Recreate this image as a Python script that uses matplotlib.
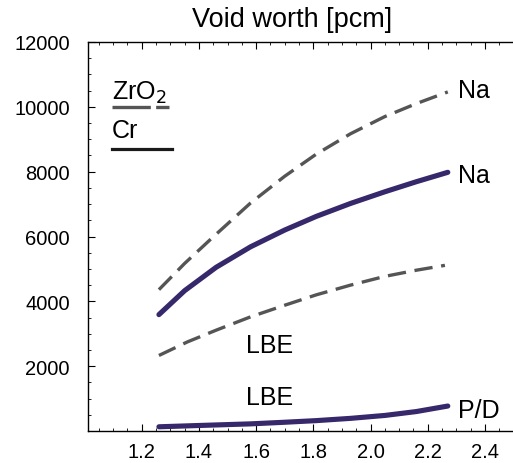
import matplotlib
matplotlib.use("Agg")
import matplotlib.pyplot as plt
from matplotlib.ticker import MultipleLocator

plt.rcParams['font.family'] = ['Liberation Sans', 'DejaVu Sans']

# data
pd_zro2_na = [1.26, 1.35, 1.45, 1.58, 1.70, 1.81, 1.93, 2.05, 2.16, 2.27]
vw_zro2_na = [4360, 5170, 5990, 7030, 7860, 8540, 9170, 9700, 10100, 10460]

pd_cr_na = [1.26, 1.35, 1.46, 1.58, 1.70, 1.81, 1.93, 2.05, 2.16, 2.27]
vw_cr_na = [3590, 4330, 5050, 5680, 6200, 6620, 7020, 7380, 7690, 7980]

pd_zro2_lbe = [1.26, 1.36, 1.46, 1.58, 1.70, 1.81, 1.93, 2.05, 2.16, 2.26]
vw_zro2_lbe = [2330, 2750, 3110, 3520, 3880, 4200, 4500, 4770, 4960, 5110]

pd_cr_lbe = [1.26, 1.40, 1.58, 1.70, 1.81, 1.93, 2.05, 2.16, 2.27]
vw_cr_lbe = [130, 170, 220, 270, 320, 390, 480, 600, 770]

x_ticks = [1.2, 1.4, 1.6, 1.8, 2.0, 2.2, 2.4]
y_ticks = [2000, 4000, 6000, 8000, 10000, 12000]

gray = '#555555'
purple = '#36286b'

fig = plt.figure(figsize=(5.13, 4.64), dpi=100)
ax = fig.add_axes([88/513, 32/464, 1 - 88/513, (432-43)/464])

dash = (0, (5.5, 2.6))
ax.plot(pd_zro2_na, vw_zro2_na, color=gray, lw=2.4, linestyle=dash)
ax.plot(pd_zro2_lbe, vw_zro2_lbe, color=gray, lw=2.4, linestyle=dash)
ax.plot(pd_cr_na, vw_cr_na, color=purple, lw=3.7, solid_capstyle='round',
        solid_joinstyle='round')
ax.plot(pd_cr_lbe, vw_cr_lbe, color=purple, lw=3.7, solid_capstyle='round',
        solid_joinstyle='round')

ax.set_xlim(1.012, 2.498)
ax.set_ylim(0, 12000)
ax.set_xticks(x_ticks)
ax.set_yticks(y_ticks)
ax.set_xticklabels([f'{v:.1f}' for v in x_ticks])
ax.xaxis.set_minor_locator(MultipleLocator(0.05))
ax.yaxis.set_minor_locator(MultipleLocator(500))
ax.tick_params(which='both', direction='in', top=True, right=False, labelsize=14.5)
ax.tick_params(which='major', length=5, width=0.8)
ax.tick_params(which='minor', length=2.5, width=0.6)
ax.tick_params(axis='x', pad=8)
ax.tick_params(axis='y', pad=13)
ax.spines['right'].set_visible(False)
for s in ['left', 'bottom', 'top']:
    ax.spines[s].set_linewidth(1.0)

fs = 18
ax.text(2.306, 10520, 'Na', fontsize=fs, va='center', ha='left')
ax.text(2.306, 7900, 'Na', fontsize=fs, va='center', ha='left')
ax.text(2.306, 650, 'P/D', fontsize=fs, va='center', ha='left')
ax.text(1.565, 2650, 'LBE', fontsize=fs, va='center', ha='left')
ax.text(1.565, 1050, 'LBE', fontsize=fs, va='center', ha='left')

# legend-like annotation
ax.text(1.095, 10450, 'ZrO$_2$', fontsize=fs, va='center', ha='left')
ax.plot([1.097, 1.295], [9990, 9990], color=gray, lw=2.4, linestyle=(0, (11.5, 1.6)))
ax.text(1.095, 9300, 'Cr', fontsize=fs, va='center', ha='left')
ax.plot([1.097, 1.305], [8700, 8700], color='#1a1a1a', lw=2.3)

fig.text(292/513, 1 - 20/464, 'Void worth [pcm]', fontsize=19.5, ha='center', va='center')

fig.savefig('out.png', dpi=100)
